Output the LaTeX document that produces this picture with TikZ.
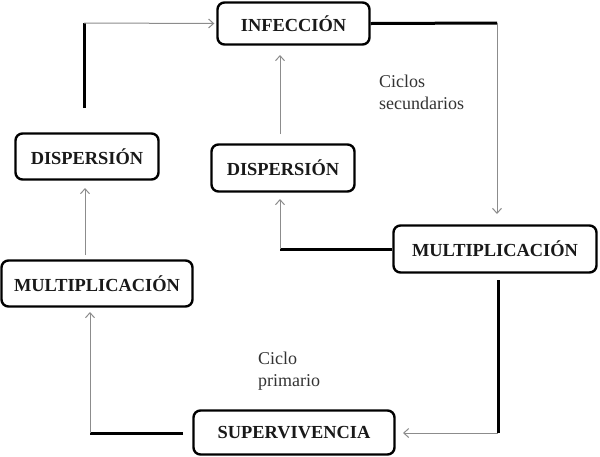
\documentclass[tikz,border=0pt]{standalone}
\usepackage{fontspec}
\setmainfont{Liberation Serif}
\usetikzlibrary{arrows.meta}
\tikzset{
  box/.style={draw=black, line width=2.4pt, rounded corners=7pt, fill=white, inner sep=0pt,
    font=\fontsize{18.4}{21}\selectfont\bfseries, text=black!90},
  thickln/.style={line width=3pt, black, line cap=butt},
  thinln/.style={line width=1pt, black!45, -{Straight Barb[length=5pt,width=9pt,line width=1pt]}},
  lbl/.style={font=\fontsize{18}{21.5}\selectfont, align=left, inner sep=0pt, anchor=north west, text=black!80}
}
\begin{document}
\begin{tikzpicture}[x=1pt,y=-1pt]
\useasboundingbox (0,0) rectangle (600,456);
\node[box, minimum width=152pt, minimum height=42pt] (inf) at (293.5,23.5) {INFECCIÓN};
\node[box, minimum width=143pt, minimum height=46pt] (dispL) at (87,156.5) {DISPERSIÓN};
\node[box, minimum width=191pt, minimum height=46pt] (multL) at (97,283.5) {MULTIPLICACIÓN};
\node[box, minimum width=143pt, minimum height=47pt] (dispM) at (283,168) {DISPERSIÓN};
\node[box, minimum width=203pt, minimum height=47pt] (multR) at (495,249) {MULTIPLICACIÓN};
\node[box, minimum width=201pt, minimum height=44pt] (sup) at (294,432.5) {SUPERVIVENCIA};

\node[lbl] (lsec) at (379,75) {Ciclos\\secundarios};
\node[lbl] (lpri) at (258,352) {Ciclo\\primario};

% DISPERSION (left) -> INFECCION
\coordinate (s1) at (84,108);
\coordinate (b1) at (84,23);
\draw[thickln] (s1) -- (b1);
\draw[thinln, shorten >=2pt] (b1) -- (inf.west);
% INFECCION -> MULTIPLICACION (right)
\coordinate (b2) at (497,23);
\coordinate (e2) at (497,214);
\draw[thickln] (inf.east) -- (b2);
\draw[thinln] (b2) -- (e2);
% MULTIPLICACION (right) -> DISPERSION (middle)
\coordinate (b3) at (280,249);
\coordinate (e3) at (280,199);
\draw[thickln] (multR.west) -- (b3);
\draw[thinln] (b3) -- (e3);
% DISPERSION (middle) -> INFECCION
\coordinate (s4) at (280,134);
\coordinate (e4) at (280,55);
\draw[thinln] (s4) -- (e4);
% MULTIPLICACION (right) -> SUPERVIVENCIA
\coordinate (s5) at (498,280);
\coordinate (b5) at (498,433);
\coordinate (e5) at (403,433);
\draw[thickln] (s5) -- (b5);
\draw[thinln] (b5) -- (e5);
% SUPERVIVENCIA -> MULTIPLICACION (left)
\coordinate (s6) at (183,433);
\coordinate (b6) at (90,433);
\coordinate (e6) at (90,312);
\draw[thickln] (s6) -- (b6);
\draw[thinln] (b6) -- (e6);
% MULTIPLICACION (left) -> DISPERSION (left)
\coordinate (s7) at (85,255);
\coordinate (e7) at (85,188);
\draw[thinln] (s7) -- (e7);
\end{tikzpicture}
\end{document}
